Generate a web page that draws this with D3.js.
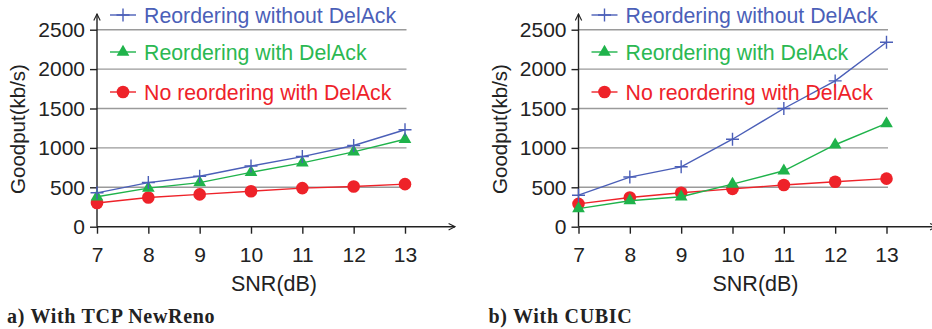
<!DOCTYPE html>
<html>
<head>
<meta charset="utf-8">
<script src="https://cdn.jsdelivr.net/npm/d3@7/dist/d3.min.js"></script>
<style>
  html, body { margin: 0; padding: 0; background: #fff; }
  svg { display: block; }
</style>
</head>
<body>
<svg id="chart" width="932" height="329"></svg>
<script>
// SNR values (dB) on the x axis
const snr = [7, 8, 9, 10, 11, 12, 13];
const yTicks = [0, 500, 1000, 1500, 2000, 2500];

// Goodput (kb/s), TCP NewReno
const renoReorderNoDelAck = [430, 560, 640, 770, 890, 1030, 1230];
const renoReorderDelAck   = [380, 490, 560, 690, 810, 950, 1110];
const renoNoReorderDelAck = [300, 370, 410, 450, 490, 510, 540];

// Goodput (kb/s), CUBIC
const cubicReorderNoDelAck = [400, 630, 760, 1110, 1500, 1850, 2340];
const cubicReorderDelAck   = [230, 330, 380, 540, 710, 1040, 1310];
const cubicNoReorderDelAck = [290, 370, 430, 480, 530, 570, 610];

const seriesNames = ["Reordering without DelAck", "Reordering with DelAck", "No reordering with DelAck"];
const captions = ["a) With TCP NewReno", "b) With CUBIC"];

const colors = ["#4b5fb8", "#1fb34b", "#ee2229"];
const textColors = ["#4b5fb8", "#2bb852", "#ee2229"];
const shapes = ["plus", "triangle", "circle"];

const panels = [
  { left: 97, right: 405, caption: captions[0],
    series: [renoReorderNoDelAck, renoReorderDelAck, renoNoReorderDelAck] },
  { left: 578.5, right: 886.5, caption: captions[1],
    series: [cubicReorderNoDelAck, cubicReorderDelAck, cubicNoReorderDelAck] }
];

const svg = d3.select("#chart");
const FONT = "'Liberation Sans', Arial, Helvetica, sans-serif";
const yTop = 29.7, yBottom = 226.7;

svg.append("defs").append("marker")
  .attr("id", "arrow").attr("viewBox", "0 0 10 10")
  .attr("refX", 9).attr("refY", 5)
  .attr("markerWidth", 8).attr("markerHeight", 8)
  .attr("markerUnits", "userSpaceOnUse")
  .attr("orient", "auto")
  .append("path").attr("d", "M1,1 L9,5 L1,9").attr("fill", "none")
  .attr("stroke", "#222").attr("stroke-width", 1.4);

function drawMarker(g, shape, x, y, color) {
  if (shape === "plus") {
    g.append("path")
      .attr("d", `M${x - 6.5},${y} H${x + 6.5} M${x},${y - 6.5} V${y + 6.5}`)
      .attr("stroke", color).attr("stroke-width", 1.4).attr("fill", "none");
  } else if (shape === "triangle") {
    g.append("path")
      .attr("d", d3.symbol(d3.symbolTriangle, 70)())
      .attr("transform", `translate(${x},${y})`)
      .attr("fill", color);
  } else {
    g.append("circle").attr("cx", x).attr("cy", y).attr("r", 6.3).attr("fill", color);
  }
}

panels.forEach(p => {
  const x = d3.scaleLinear().domain([7, 13]).range([p.left, p.right]);
  const y = d3.scaleLinear().domain([0, 2500]).range([yBottom, yTop]);
  const g = svg.append("g");

  // horizontal grid lines
  g.append("g").selectAll("line").data(yTicks.filter(v => v > 0)).join("line")
    .attr("x1", p.left).attr("x2", p.right + 1.5)
    .attr("y1", d => y(d)).attr("y2", d => y(d))
    .attr("stroke", "#9a9a9a").attr("stroke-width", 1.4);

  // y axis
  const yAxis = g.append("g").attr("transform", `translate(${p.left},0)`)
    .call(d3.axisLeft(y).tickValues(yTicks).tickFormat(d3.format("d"))
      .tickSizeInner(7).tickSizeOuter(0).tickPadding(5));
  yAxis.select(".domain").remove();
  yAxis.selectAll(".tick line").attr("stroke", "#222").attr("stroke-width", 1.4);
  yAxis.selectAll("text").attr("font-family", FONT).attr("font-size", 21).attr("fill", "#222");

  // x axis
  const xAxis = g.append("g").attr("transform", `translate(0,${yBottom})`)
    .call(d3.axisBottom(x).tickValues(snr).tickFormat(d3.format("d"))
      .tickSizeInner(7).tickSizeOuter(0).tickPadding(13));
  xAxis.select(".domain").remove();
  xAxis.selectAll(".tick line").attr("stroke", "#222").attr("stroke-width", 1.4);
  xAxis.selectAll("text").attr("font-family", FONT).attr("font-size", 21).attr("fill", "#222");

  // axis lines with arrow heads
  g.append("line").attr("x1", p.left).attr("x2", p.left)
    .attr("y1", yBottom).attr("y2", 14)
    .attr("stroke", "#222").attr("stroke-width", 1.4).attr("marker-end", "url(#arrow)");
  g.append("line").attr("x1", p.left).attr("x2", p.left + 358)
    .attr("y1", yBottom).attr("y2", yBottom)
    .attr("stroke", "#222").attr("stroke-width", 1.4).attr("marker-end", "url(#arrow)");

  // axis titles
  g.append("text").attr("x", (p.left + p.right) / 2 + 23).attr("y", 290.5)
    .attr("text-anchor", "middle").attr("font-family", FONT).attr("font-size", 21.5)
    .attr("fill", "#222").text("SNR(dB)");
  g.append("text")
    .attr("transform", `translate(${p.left - 72},129) rotate(-90)`)
    .attr("text-anchor", "middle").attr("font-family", FONT).attr("font-size", 20.5)
    .attr("fill", "#222").text("Goodput(kb/s)");

  // data lines and markers
  const line = d3.line().x((d, i) => x(snr[i])).y(d => y(d));
  [2, 1, 0].forEach(si => {
    const vals = p.series[si];
    g.append("path").datum(vals).attr("d", line)
      .attr("fill", "none").attr("stroke", colors[si]).attr("stroke-width", 1.4);
    const mg = g.append("g");
    vals.forEach((v, i) => drawMarker(mg, shapes[si], x(snr[i]), y(v), colors[si]));
  });

  // legend
  const legendY = [15, 52, 92];
  seriesNames.forEach((name, si) => {
    const lx = p.left + 13;
    const ly = legendY[si];
    g.append("line").attr("x1", lx).attr("x2", lx + 26).attr("y1", ly).attr("y2", ly)
      .attr("stroke", colors[si]).attr("stroke-width", 1.4);
    drawMarker(g, shapes[si], lx + 13, ly, colors[si]);
    g.append("text").attr("x", lx + 34).attr("y", ly + 7.5)
      .attr("font-family", FONT).attr("font-size", 21.3)
      .attr("fill", textColors[si]).text(name);
  });

  // panel caption
  g.append("text").attr("x", p.left - 90).attr("y", 323)
    .attr("font-family", "'Liberation Serif', 'Times New Roman', serif")
    .attr("font-weight", "bold").attr("font-size", 20).attr("letter-spacing", 0.7)
    .attr("fill", "#222").text(p.caption);
});
</script>
</body>
</html>
